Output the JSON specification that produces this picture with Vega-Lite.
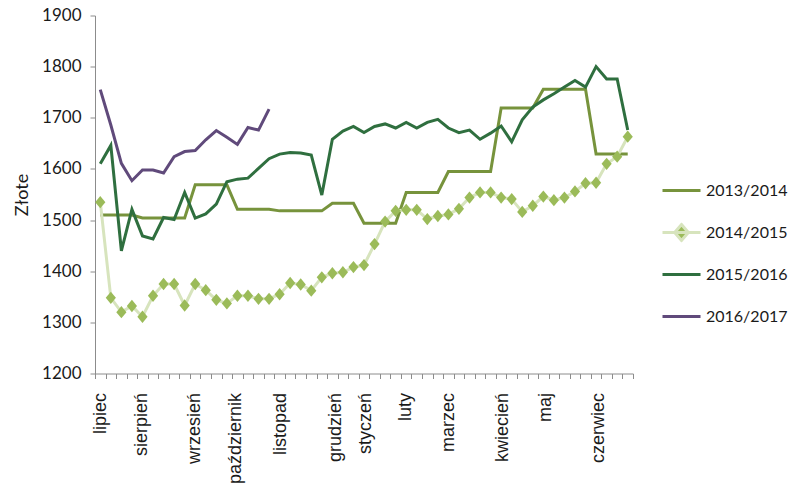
{
  "$schema": "https://vega.github.io/schema/vega-lite/v6.json",
  "width": 538,
  "height": 358,
  "autosize": {"type": "none"},
  "padding": {"left": 95, "top": 15.5, "right": 157, "bottom": 122.5},
  "background": "white",
  "config": {"view": {"stroke": null}, "font": "Liberation Sans"},
  "data": {"values": [
    {"t":0,"2013/2014":1510,"2014/2015":1535,"2015/2016":1610,"2016/2017":1755},
    {"t":1,"2013/2014":1510,"2014/2015":1348,"2015/2016":1646,"2016/2017":1686},
    {"t":2,"2013/2014":1510,"2014/2015":1320,"2015/2016":1440,"2016/2017":1611},
    {"t":3,"2013/2014":1510,"2014/2015":1332,"2015/2016":1521,"2016/2017":1577},
    {"t":4,"2013/2014":1504,"2014/2015":1311,"2015/2016":1469,"2016/2017":1598},
    {"t":5,"2013/2014":1504,"2014/2015":1352,"2015/2016":1463,"2016/2017":1598},
    {"t":6,"2013/2014":1504,"2014/2015":1375,"2015/2016":1505,"2016/2017":1592},
    {"t":7,"2013/2014":1504,"2014/2015":1375,"2015/2016":1501,"2016/2017":1624},
    {"t":8,"2013/2014":1504,"2014/2015":1333,"2015/2016":1554,"2016/2017":1634},
    {"t":9,"2013/2014":1569,"2014/2015":1375,"2015/2016":1504,"2016/2017":1636},
    {"t":10,"2013/2014":1569,"2014/2015":1363,"2015/2016":1512,"2016/2017":1657},
    {"t":11,"2013/2014":1569,"2014/2015":1344,"2015/2016":1531,"2016/2017":1675},
    {"t":12,"2013/2014":1569,"2014/2015":1337,"2015/2016":1575,"2016/2017":1662},
    {"t":13,"2013/2014":1521,"2014/2015":1352,"2015/2016":1580,"2016/2017":1648},
    {"t":14,"2013/2014":1521,"2014/2015":1352,"2015/2016":1582,"2016/2017":1681},
    {"t":15,"2013/2014":1521,"2014/2015":1346,"2015/2016":1601,"2016/2017":1676},
    {"t":16,"2013/2014":1521,"2014/2015":1346,"2015/2016":1620,"2016/2017":1717},
    {"t":17,"2013/2014":1518,"2014/2015":1355,"2015/2016":1629},
    {"t":18,"2013/2014":1518,"2014/2015":1377,"2015/2016":1632},
    {"t":19,"2013/2014":1518,"2014/2015":1374,"2015/2016":1631},
    {"t":20,"2013/2014":1518,"2014/2015":1362,"2015/2016":1627},
    {"t":21,"2013/2014":1518,"2014/2015":1388,"2015/2016":1549},
    {"t":22,"2013/2014":1533,"2014/2015":1396,"2015/2016":1658},
    {"t":23,"2013/2014":1533,"2014/2015":1398,"2015/2016":1674},
    {"t":24,"2013/2014":1533,"2014/2015":1408,"2015/2016":1683},
    {"t":25,"2013/2014":1494,"2014/2015":1412,"2015/2016":1671},
    {"t":26,"2013/2014":1494,"2014/2015":1453,"2015/2016":1683},
    {"t":27,"2013/2014":1494,"2014/2015":1497,"2015/2016":1688},
    {"t":28,"2013/2014":1494,"2014/2015":1518,"2015/2016":1680},
    {"t":29,"2013/2014":1554,"2014/2015":1520,"2015/2016":1691},
    {"t":30,"2013/2014":1554,"2014/2015":1520,"2015/2016":1680},
    {"t":31,"2013/2014":1554,"2014/2015":1502,"2015/2016":1691},
    {"t":32,"2013/2014":1554,"2014/2015":1508,"2015/2016":1697},
    {"t":33,"2013/2014":1595,"2014/2015":1511,"2015/2016":1680},
    {"t":34,"2013/2014":1595,"2014/2015":1522,"2015/2016":1671},
    {"t":35,"2013/2014":1595,"2014/2015":1544,"2015/2016":1676},
    {"t":36,"2013/2014":1595,"2014/2015":1554,"2015/2016":1658},
    {"t":37,"2013/2014":1595,"2014/2015":1554,"2015/2016":1670},
    {"t":38,"2013/2014":1719,"2014/2015":1544,"2015/2016":1684},
    {"t":39,"2013/2014":1719,"2014/2015":1541,"2015/2016":1653},
    {"t":40,"2013/2014":1719,"2014/2015":1516,"2015/2016":1696},
    {"t":41,"2013/2014":1719,"2014/2015":1528,"2015/2016":1721},
    {"t":42,"2013/2014":1756,"2014/2015":1546,"2015/2016":1735},
    {"t":43,"2013/2014":1756,"2014/2015":1539,"2015/2016":1747},
    {"t":44,"2013/2014":1756,"2014/2015":1544,"2015/2016":1760},
    {"t":45,"2013/2014":1756,"2014/2015":1556,"2015/2016":1773},
    {"t":46,"2013/2014":1756,"2014/2015":1572,"2015/2016":1760},
    {"t":47,"2013/2014":1629,"2014/2015":1573,"2015/2016":1800},
    {"t":48,"2013/2014":1629,"2014/2015":1610,"2015/2016":1776},
    {"t":49,"2013/2014":1629,"2014/2015":1624,"2015/2016":1776},
    {"t":50,"2013/2014":1629,"2014/2015":1663,"2015/2016":1676}
  ]},
  "transform": [
    {"fold": ["2013/2014", "2014/2015", "2015/2016", "2016/2017"], "as": ["s", "v"]}
  ],
  "resolve": {"axis": {"x": "independent"}, "scale": {"x": "shared"}},
  "layer": [
    {
      "mark": {"type": "line", "strokeWidth": 3, "interpolate": "linear"},
      "encoding": {
        "x": {
          "field": "t", "type": "quantitative",
          "scale": {"domain": [-0.5, 50.5], "nice": false, "zero": false},
          "axis": {
            "orient": "bottom",
            "title": null,
            "grid": false,
            "labels": false,
            "values": [-0.5,0.5,1.5,2.5,3.5,4.5,5.5,6.5,7.5,8.5,9.5,10.5,11.5,12.5,13.5,14.5,15.5,16.5,17.5,18.5,19.5,20.5,21.5,22.5,23.5,24.5,25.5,26.5,27.5,28.5,29.5,30.5,31.5,32.5,33.5,34.5,35.5,36.5,37.5,38.5,39.5,40.5,41.5,42.5,43.5,44.5,45.5,46.5,47.5,48.5,49.5,50.5],
            "tickSize": 5,
            "tickColor": "#8c8c8c",
            "domainColor": "#8c8c8c"
          }
        },
        "y": {
          "field": "v", "type": "quantitative",
          "scale": {"domain": [1200, 1900], "nice": false, "zero": false},
          "axis": {
            "title": "Złote",
            "grid": false,
            "format": "d",
            "values": [1200,1300,1400,1500,1600,1700,1800,1900],
            "labelFont": "Lato",
            "labelFontSize": 17,
            "labelColor": "#1a1a1a",
            "labelPadding": 9,
            "tickSize": 5,
            "tickColor": "#8c8c8c",
            "domainColor": "#8c8c8c",
            "titleFont": "Lato",
            "titleFontSize": 18,
            "titleFontWeight": "normal",
            "titleColor": "#1a1a1a",
            "titlePadding": 10
          }
        },
        "color": {
          "field": "s", "type": "nominal",
          "scale": {
            "domain": ["2013/2014", "2014/2015", "2015/2016", "2016/2017"],
            "range": ["#77933C", "#D7E4BD", "#2F6F3F", "#604A7B"]
          },
          "legend": {
            "orient": "none",
            "legendX": 566,
            "legendY": 165,
            "title": null,
            "padding": 0,
            "symbolType": "stroke",
            "symbolSize": 1444,
            "symbolStrokeWidth": 3,
            "labelFont": "Lato",
            "labelFontSize": 16,
            "labelColor": "#1a1a1a",
            "labelOffset": 4,
            "labelLimit": 200,
            "clipHeight": 20,
            "rowPadding": 22,
            "encode": {
              "symbols": {
                "update": {
                  "shape": {"signal": "datum.value === '2014/2015' ? 'M-1,0L1,0M0,-0.42L0.36,0L0,0.42L-0.36,0Z' : 'M-1,0L1,0'"},
                  "fill": {"signal": "datum.value === '2014/2015' ? '#9BBB59' : 'transparent'"},
                  "fillOpacity": {"value": 1},
                  "opacity": {"value": 1},
                  "stroke": {"scale": "color", "field": "value"},
                  "strokeWidth": {"value": 3}
                }
              }
            }
          }
        }
      }
    },
    {
      "transform": [{"filter": "datum.s == '2014/2015'"}],
      "mark": {"type": "point", "filled": true, "shape": "M0,-1.15L0.95,0L0,1.15L-0.95,0Z", "size": 115, "color": "#9BBB59", "opacity": 1},
      "encoding": {
        "x": {
          "field": "t", "type": "quantitative",
          "axis": {
            "orient": "bottom",
            "title": null,
            "grid": false,
            "domain": false,
            "ticks": false,
            "values": [0,3.9,8.9,12.8,17.1,22.3,25.1,28.9,33,38.1,42.2,47.2],
            "labelExpr": "datum.value == 0 ? 'lipiec' : datum.value == 3.9 ? 'sierpień' : datum.value == 8.9 ? 'wrzesień' : datum.value == 12.8 ? 'październik' : datum.value == 17.1 ? 'listopad' : datum.value == 22.3 ? 'grudzień' : datum.value == 25.1 ? 'styczeń' : datum.value == 28.9 ? 'luty' : datum.value == 33 ? 'marzec' : datum.value == 38.1 ? 'kwiecień' : datum.value == 42.2 ? 'maj' : 'czerwiec'",
            "labelAngle": -90,
            "labelOverlap": false,
            "labelFlush": false,
            "labelBound": false,
            "labelFont": "Liberation Sans",
            "labelFontSize": 18,
            "labelColor": "#1a1a1a",
            "labelPadding": 19
          }
        },
        "y": {"field": "v", "type": "quantitative"}
      }
    }
  ]
}
